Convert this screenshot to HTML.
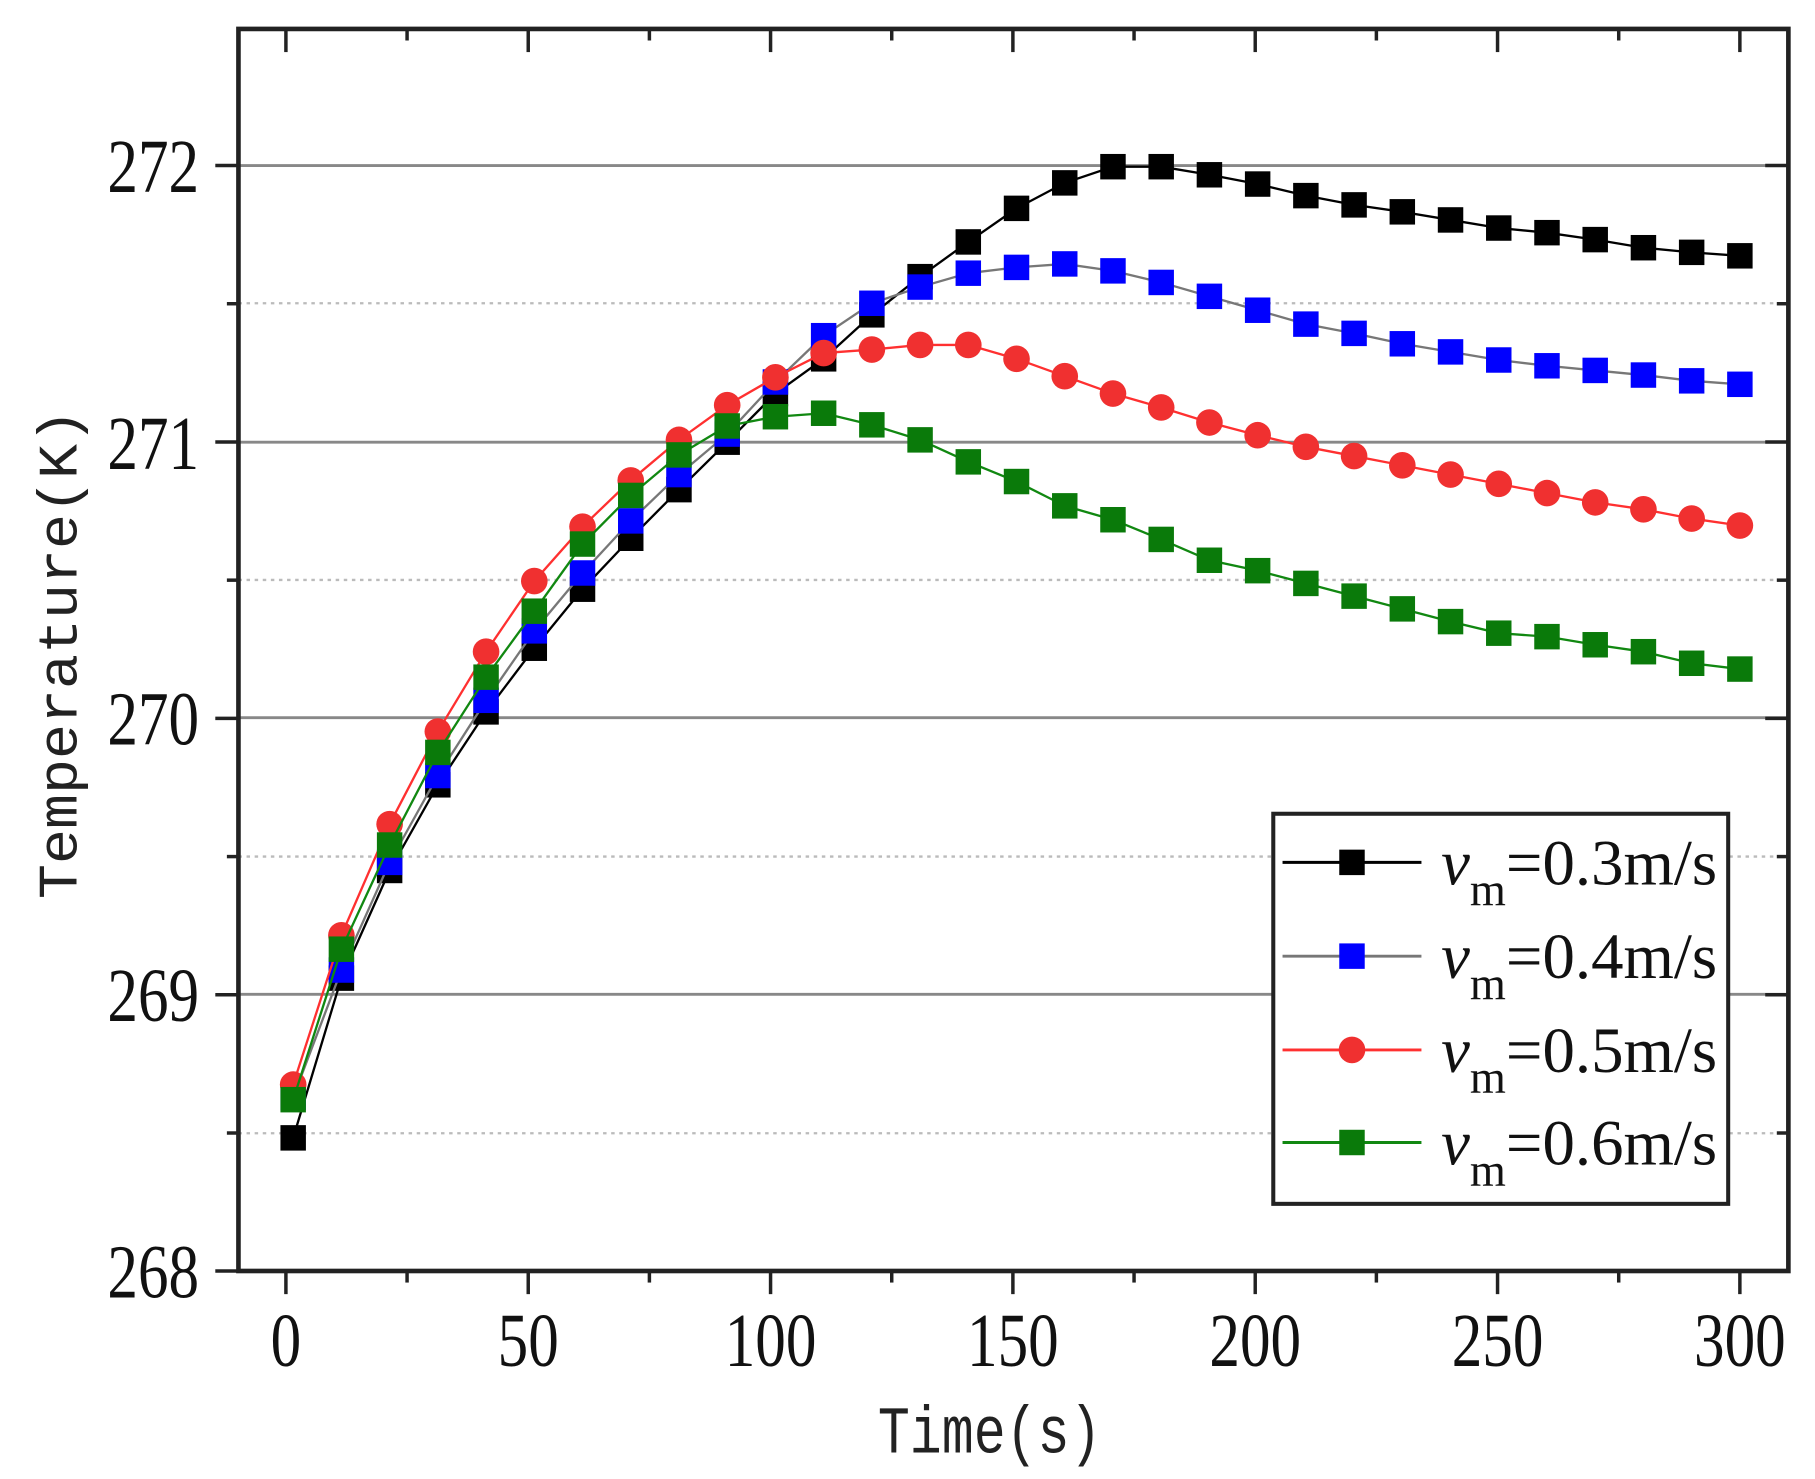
<!DOCTYPE html>
<html><head><meta charset="utf-8"><style>html,body{margin:0;padding:0;background:#fff}svg{display:block}</style></head>
<body>
<svg id="s" xmlns="http://www.w3.org/2000/svg" width="1815" height="1479" viewBox="0 0 1568 1277.7" preserveAspectRatio="none">
<rect width="1568" height="1278" fill="#fff"/>
<g stroke="#888" stroke-width="2.5">
<line x1="206" x2="1545" y1="143" y2="143"/><line x1="206" x2="1545" y1="382" y2="382"/>
<line x1="206" x2="1545" y1="620" y2="620"/><line x1="206" x2="1545" y1="859" y2="859"/>
</g>
<g stroke="#bbb" stroke-width="2" stroke-dasharray="3,4">
<line x1="206" x2="1545" y1="262" y2="262"/><line x1="206" x2="1545" y1="501" y2="501"/>
<line x1="206" x2="1545" y1="740" y2="740"/><line x1="206" x2="1545" y1="979" y2="979"/>
</g>
<g id="ticks" stroke="#222" stroke-width="3"></g>
<g id="series"></g>
<rect x="206" y="25" width="1339" height="1073" fill="none" stroke="#222" stroke-width="4"/>
<g font-family="Liberation Serif, serif" font-size="66" fill="#111" text-anchor="end">
<text x="172" y="166" transform="translate(172 0) scale(0.8 1) translate(-172 0)">272</text>
<text x="172" y="405" transform="translate(172 0) scale(0.8 1) translate(-172 0)">271</text>
<text x="172" y="643" transform="translate(172 0) scale(0.8 1) translate(-172 0)">270</text>
<text x="172" y="882" transform="translate(172 0) scale(0.8 1) translate(-172 0)">269</text>
<text x="172" y="1121" transform="translate(172 0) scale(0.8 1) translate(-172 0)">268</text>
</g>
<g id="xl" font-family="Liberation Serif, serif" font-size="66" fill="#111" text-anchor="middle"></g>
<text x="855" y="1255" font-family="Liberation Mono, monospace" font-size="50" fill="#222" text-anchor="middle" transform="translate(855 1255) scale(0.92 1.15) translate(-855 -1255)">Time(s)</text>
<text x="0" y="0" font-family="Liberation Mono, monospace" font-size="48" fill="#222" text-anchor="middle" transform="translate(66 565) rotate(-90) scale(1.05 1.0)">Temperature(K)</text>
<rect x="1100" y="703" width="393" height="337" fill="#fff" stroke="#222" stroke-width="3.5"/>
<g id="leg"></g>
</svg>
<script>
const NS="http://www.w3.org/2000/svg";
function el(p,t,a,txt){const e=document.createElementNS(NS,t);for(const k in a)e.setAttribute(k,a[k]);if(txt!=null)e.textContent=txt;p.appendChild(e);return e;}
const X=v=>247+v*4.187;
const tk=document.getElementById('ticks');
for(let v=0;v<=300;v+=25){const x=X(v),maj=v%50==0;
 el(tk,'line',{x1:x,x2:x,y1:1098,y2:1098+(maj?20:10)});
 el(tk,'line',{x1:x,x2:x,y1:25,y2:25+(maj?20:10)});
 if(maj) el(document.getElementById('xl'),'text',{x:x,y:1180,transform:`translate(${x} 0) scale(0.8 1) translate(${-x} 0)`},String(v));}
for(let y=143;y<=1098;y+=119.4){el(tk,'line',{x1:206,x2:206-((Math.round((y-143)/119.4)%2==0)?20:10),y1:y,y2:y});
 el(tk,'line',{x1:1545,x2:1545-((Math.round((y-143)/119.4)%2==0)?20:10),y1:y,y2:y});}
el(tk,'line',{x1:206,x2:186,y1:1098,y2:1098});
const data=[
 ['#000','#000','sq',[983,845,752,678,615,560,509,465,423,382,340,310,272,239,209,180,158,144,144,151,159,169,177,183,190,197,201,207,214,218,221]],
 ['#777','#0000ff','sq',[948,838,745,670,605,545,495,450,410,375,330,290,262,248,236,231,228,234,244,256,268,280,288,297,304,311,316,320,324,329,332]],
 ['#ff3030','#f03030','ci',[937,808,712,632,563,502,455,415,380,350,326,305,302,298,298,310,325,340,352,365,376,386,394,402,410,418,426,434,440,448,454]],
 ['#118811','#0a7a0a','sq',[950,820,730,650,585,528,470,428,393,368,360,357,367,380,399,416,437,449,466,484,493,504,515,526,537,547,550,557,563,573,578]]];
const sg=document.getElementById('series');
data.forEach(([lc,mc,sh,ys])=>{const pts=ys.map((y,i)=>[X(1.5+i*9.95),y]);
 el(sg,'polyline',{points:pts.map(p=>p.join(',')).join(' '),fill:'none',stroke:lc,'stroke-width':2});
 pts.forEach(([x,y])=>{if(sh=='sq')el(sg,'rect',{x:x-11,y:y-11,width:22,height:22,fill:mc});else el(sg,'circle',{cx:x,cy:y,r:11.5,fill:mc});});});
const lg=document.getElementById('leg');const labs=['0.3','0.4','0.5','0.6'];const ly=[745,826,907,987];
data.forEach(([lc,mc,sh],i)=>{const y=ly[i];
 el(lg,'line',{x1:1108,x2:1228,y1:y,y2:y,stroke:lc,'stroke-width':2.5});
 if(sh=='sq')el(lg,'rect',{x:1157,y:y-11,width:22,height:22,fill:mc});else el(lg,'circle',{cx:1168,cy:y,r:11.5,fill:mc});
 const t=el(lg,'text',{x:1245,y:y+19,'font-family':'Liberation Serif, serif','font-size':56,fill:'#111'});
 el(t,'tspan',{'font-style':'italic'},'v');el(t,'tspan',{dy:18,'font-size':40},'m');el(t,'tspan',{dy:-18},'='+labs[i]+'m/s');});
</script>
</body></html>
